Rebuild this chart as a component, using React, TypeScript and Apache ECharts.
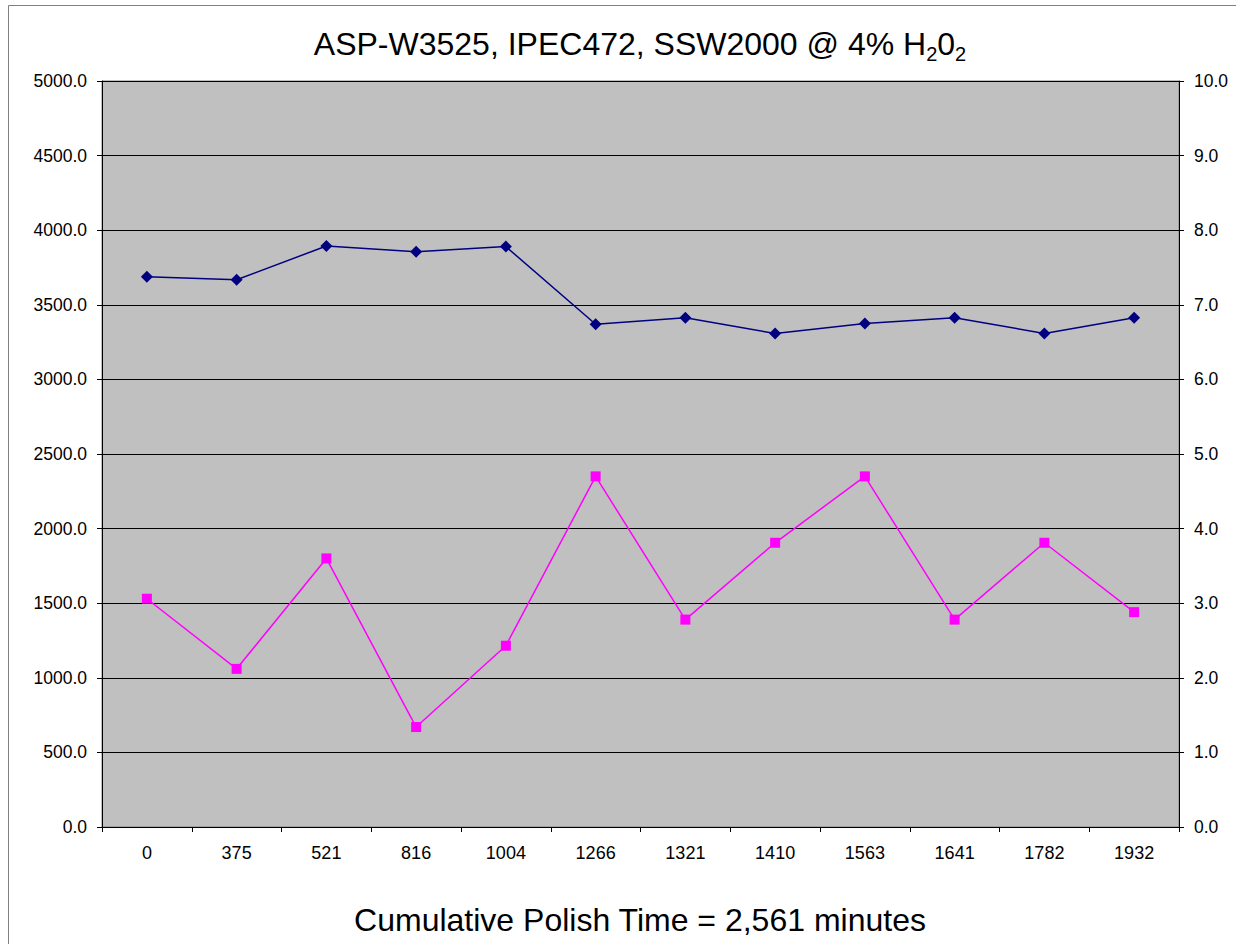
import React, { useEffect, useRef } from "react";
import * as echarts from "echarts";

const categories = ["0", "375", "521", "816", "1004", "1266", "1321", "1410", "1563", "1641", "1782", "1932"];
const leftSeries = [3688, 3668, 3894, 3856, 3890, 3370, 3413, 3308, 3374, 3413, 3308, 3413];
const rightSeries = [3.06, 2.12, 3.6, 1.34, 2.43, 4.7, 2.78, 3.81, 4.7, 2.78, 3.81, 2.88];
const leftTicks = { min: 0, max: 5000, interval: 500 };
const rightTicks = { min: 0, max: 10, interval: 1 };
const titleMain = "ASP-W3525, IPEC472, SSW2000 @ 4% H";
const bottomText = "Cumulative Polish Time = 2,561 minutes";

const FONT = "'Liberation Sans', Arial, sans-serif";

export default function App() {
  const ref = useRef<HTMLDivElement>(null);
  useEffect(() => {
    if (!ref.current) return;
    const chart = echarts.init(ref.current, null, { renderer: "svg" });
    chart.setOption({
      animation: false,
      backgroundColor: "#ffffff",
      textStyle: { fontFamily: FONT },
      title: [
        {
          text: `{m|${titleMain}}{s|2}{m|0}{s|2}`,
          left: 640,
          top: 24,
          padding: 0,
          textAlign: "center",
          textStyle: {
            fontWeight: "normal",
            rich: {
              m: { fontSize: 32, fontFamily: FONT, color: "#000", fontWeight: "normal", lineHeight: 40 },
              s: { fontSize: 20, fontFamily: FONT, color: "#000", fontWeight: "normal", verticalAlign: "bottom" },
            },
          },
        },
        {
          text: bottomText,
          left: 640,
          top: 900,
          padding: 0,
          textAlign: "center",
          textStyle: { fontSize: 32, fontFamily: FONT, color: "#000", fontWeight: "normal", lineHeight: 40 },
        },
      ],
      graphic: [
        {
          type: "rect",
          silent: true,
          shape: { x: 8.5, y: 5.5, width: 1300, height: 1000 },
          style: { fill: "none", stroke: "#808080", lineWidth: 1 },
          z: -1,
        },
      ],
      grid: {
        left: 102,
        right: 57,
        top: 81,
        bottom: 117,
        show: true,
        backgroundColor: "#C0C0C0",
        borderColor: "#808080",
        borderWidth: 1,
      },
      xAxis: {
        type: "category",
        data: categories,
        boundaryGap: true,
        axisLine: { lineStyle: { color: "#000", width: 1 } },
        axisTick: { show: true, length: 5, interval: 0, lineStyle: { color: "#000" } },
        axisLabel: { fontSize: 18, color: "#000", margin: 17, interval: 0, fontFamily: FONT },
        splitLine: { show: false },
      },
      yAxis: [
        {
          type: "value",
          position: "left",
          min: leftTicks.min,
          max: leftTicks.max,
          interval: leftTicks.interval,
          axisLine: { show: true, lineStyle: { color: "#000", width: 1 } },
          axisTick: { show: true, length: 5, lineStyle: { color: "#000" } },
          axisLabel: {
            fontSize: 17.5,
            color: "#000",
            margin: 15,
            fontFamily: FONT,
            formatter: (v: number) => v.toFixed(1),
          },
          splitLine: { show: true, lineStyle: { color: "#000", width: 1 } },
        },
        {
          type: "value",
          position: "right",
          min: rightTicks.min,
          max: rightTicks.max,
          interval: rightTicks.interval,
          axisLine: { show: true, lineStyle: { color: "#000", width: 1 } },
          axisTick: { show: true, length: 5, lineStyle: { color: "#000" } },
          axisLabel: {
            fontSize: 17.5,
            color: "#000",
            margin: 15,
            fontFamily: FONT,
            formatter: (v: number) => v.toFixed(1),
          },
          splitLine: { show: false },
        },
      ],
      series: [
        {
          name: "Series1",
          type: "line",
          yAxisIndex: 0,
          data: leftSeries,
          symbol: "diamond",
          symbolSize: 12,
          lineStyle: { color: "#000080", width: 1.5 },
          itemStyle: { color: "#000080" },
        },
        {
          name: "Series2",
          type: "line",
          yAxisIndex: 1,
          data: rightSeries,
          symbol: "rect",
          symbolSize: 10,
          lineStyle: { color: "#FF00FF", width: 1.5 },
          itemStyle: { color: "#FF00FF" },
        },
      ],
    });
    return () => chart.dispose();
  }, []);
  return (
    <div
      ref={ref}
      style={{ position: "absolute", left: 0, top: 0, width: 1236, height: 944 }}
    />
  );
}
